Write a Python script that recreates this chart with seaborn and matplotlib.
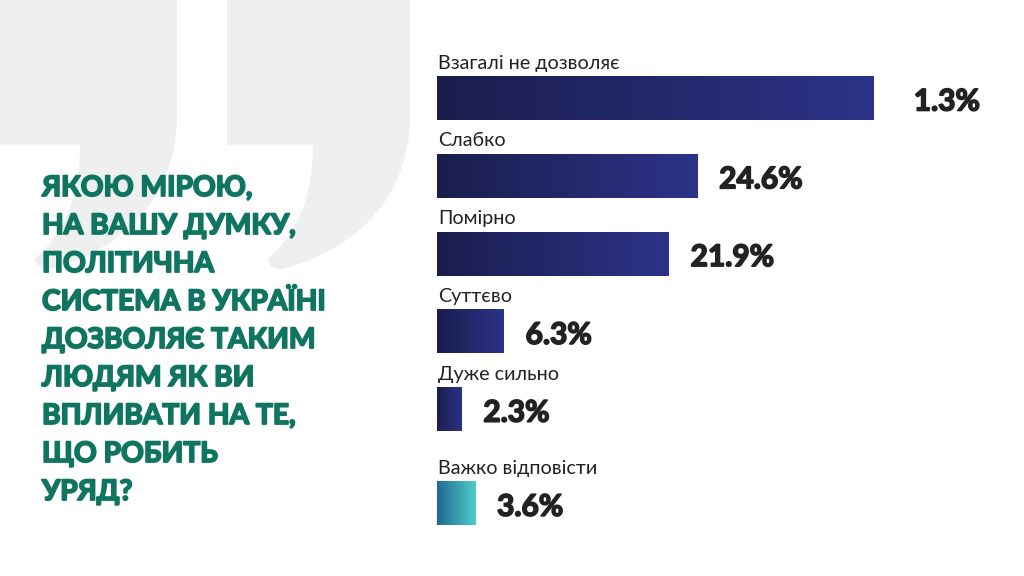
import numpy as np
import pandas as pd
import matplotlib
matplotlib.use("Agg")
import matplotlib.pyplot as plt
from matplotlib.path import Path
from matplotlib.patches import PathPatch
from matplotlib.colors import LinearSegmentedColormap
import matplotlib.patheffects as pe
import seaborn as sns

# ---- data ----
categories = ["Взагалі не дозволяє", "Слабко", "Помірно", "Суттєво",
              "Дуже сильно", "Важко відповісти"]
values = [41.3, 24.6, 21.9, 6.3, 2.3, 3.6]
value_labels = ["1.3%", "24.6%", "21.9%", "6.3%", "2.3%", "3.6%"]
title_lines = ["ЯКОЮ МІРОЮ,", "НА ВАШУ ДУМКУ,", "ПОЛІТИЧНА",
               "СИСТЕМА В УКРАЇНІ", "ДОЗВОЛЯЄ ТАКИМ", "ЛЮДЯМ ЯК ВИ",
               "ВПЛИВАТИ НА ТЕ,", "ЩО РОБИТЬ", "УРЯД?"]

# ---- layout ----
W, H = 1024, 576
row_pos = [0, 1, 2, 3, 4, 5.21]
label_gap_px = [40, 22, 22, 22, 22, 22]
px_per_unit_x = 10.575
px_per_row = 77.8
bar_left_px = 437
first_center_px = 98
bar_h = 44 / px_per_row

sns.set_theme(style="white")
plt.rcParams['font.family'] = ['Lato', 'DejaVu Sans']

fig = plt.figure(figsize=(W / 100, H / 100), dpi=100)
fig.patch.set_facecolor("white")

# background decoration axes in pixel coords
bg = fig.add_axes([0, 0, 1, 1])
bg.set_xlim(0, W)
bg.set_ylim(H, 0)
bg.axis("off")

def comma(dx):
    verts = [(227, -5), (410, -5), (410, 120),
             (408, 192), (364, 246), (286, 268),
             (277, 271), (268, 267), (268, 259),
             (300, 230), (313, 192), (313, 145),
             (227, 145), (227, -5)]
    codes = [Path.MOVETO, Path.LINETO, Path.LINETO,
             Path.CURVE4, Path.CURVE4, Path.CURVE4,
             Path.CURVE4, Path.CURVE4, Path.CURVE4,
             Path.CURVE4, Path.CURVE4, Path.CURVE4,
             Path.LINETO, Path.CLOSEPOLY]
    verts = [(x + dx, y) for x, y in verts]
    return PathPatch(Path(verts, codes), facecolor="#eef0ef", edgecolor="none")

bg.add_patch(comma(-233))
bg.add_patch(comma(0))

green = "#0f7560"
for i, line in enumerate(title_lines):
    bg.text(42, 196 + i * 38.0, line, fontsize=20.3, fontweight="bold",
            color=green, ha="left", va="baseline",
            path_effects=[pe.withStroke(linewidth=1.3, foreground=green)])

# bar axes
ax = fig.add_axes([bar_left_px / W, 0, 1 - bar_left_px / W, 1])
ax.set_facecolor("none")
df = pd.DataFrame({"cat": categories, "val": values, "pos": row_pos})
sns.barplot(data=df, x="val", y="pos", orient="h", native_scale=True,
            width=bar_h, color="#2c3388", ax=ax, errorbar=None)
xmax = (W - bar_left_px) / px_per_unit_x
top = -first_center_px / px_per_row

navy = LinearSegmentedColormap.from_list("navy", ["#1b1d4d", "#2c3388"])
teal = LinearSegmentedColormap.from_list("teal", ["#1f6a93", "#50cdc9"])
grad = np.linspace(0, 1, 256).reshape(1, -1)
patches = sorted(ax.patches, key=lambda p: p.get_y())
for i, p in enumerate(patches):
    x0, y0, w, h = p.get_x(), p.get_y(), p.get_width(), p.get_height()
    cmap = teal if i == len(patches) - 1 else navy
    im = ax.imshow(grad, cmap=cmap, aspect="auto",
                   extent=[x0, x0 + w, y0 + h, y0], zorder=2)
    im.set_clip_path(p)
    p.set_facecolor("none")
    p.set_edgecolor("none")
ax.set_xlim(0, xmax)
ax.set_ylim(top + H / px_per_row, top)
ax.axis("off")

dark = "#222222"
for i, (c, v, lab, ypos) in enumerate(zip(categories, values, value_labels, row_pos)):
    ax.text(1.5 / px_per_unit_x, ypos - bar_h / 2 - 7.5 / px_per_row, c,
            fontsize=14.2, color=dark, ha="left", va="baseline")
    ax.text(v + label_gap_px[i] / px_per_unit_x, ypos + 12.5 / px_per_row, lab,
            fontsize=21.5, fontweight="bold", color=dark,
            ha="left", va="baseline",
            path_effects=[pe.withStroke(linewidth=1.2, foreground=dark)])

fig.savefig("out.png", dpi=100, facecolor="white")
